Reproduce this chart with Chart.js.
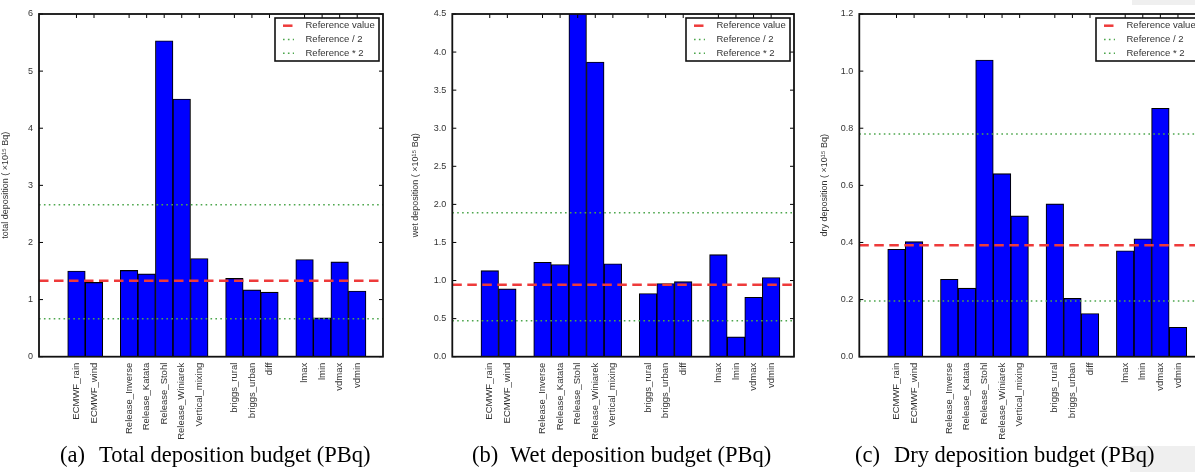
<!DOCTYPE html>
<html>
<head>
<meta charset="utf-8">
<script src="https://cdn.jsdelivr.net/npm/chart.js@4.4.1/dist/chart.umd.min.js"></script>
<style>
  html, body { margin: 0; padding: 0; background: #fff; width: 1195px; height: 472px; overflow: hidden; position: relative; }
  .box { position: absolute; top: 0; height: 445px; }
  .gray { position: absolute; background: #efefef; }
  .cap { position: absolute; top: 444px; font-family: "Liberation Serif", "Times New Roman", serif; font-size: 22.5px; line-height: 22.5px; color: #000; white-space: nowrap; }
</style>
</head>
<body>
<div class="box" style="left:0px;width:400px"><canvas id="chartA"></canvas></div>
<div class="box" style="left:400px;width:400px"><canvas id="chartB"></canvas></div>
<div class="box" style="left:800px;width:420px"><canvas id="chartC"></canvas></div>

<div class="gray" style="left:1132px;top:0;width:63px;height:5px"></div>
<div class="gray" style="left:1130px;top:446px;width:65px;height:26px"></div>

<div class="cap" style="left:60px">(a)</div>
<div class="cap" style="left:99px">Total deposition budget (PBq)</div>
<div class="cap" style="left:472px">(b)</div>
<div class="cap" style="left:510px">Wet deposition budget (PBq)</div>
<div class="cap" style="left:855px">(c)</div>
<div class="cap" style="left:894px">Dry deposition budget (PBq)</div>

<script>
// '' marks the empty slot between groups of runs
const categories = ["ECMWF_rain", "ECMWF_wind", "",
  "Release_Inverse", "Release_Katata", "Release_Stohl", "Release_Winiarek", "Vertical_mixing", "",
  "briggs_rural", "briggs_urban", "diff", "",
  "lmax", "lmin", "vdmax", "vdmin"];

const totalDeposition = [1.50, 1.30, null, 1.51, 1.45, 5.53, 4.51, 1.72, null, 1.37, 1.17, 1.13, null, 1.70, 0.68, 1.66, 1.15];
const wetDeposition   = [1.13, 0.89, null, 1.24, 1.21, 4.62, 3.87, 1.22, null, 0.83, 0.96, 0.985, null, 1.34, 0.26, 0.78, 1.04];
const dryDeposition   = [0.376, 0.403, null, 0.271, 0.240, 1.039, 0.641, 0.493, null, 0.535, 0.204, 0.151, null, 0.371, 0.413, 0.870, 0.103];

const totalReference = 1.33;
const wetReference = 0.945;
const dryReference = 0.39;

const totalTicks = ["0", "1", "2", "3", "4", "5", "6"];
const wetTicks = ["0.0", "0.5", "1.0", "1.5", "2.0", "2.5", "3.0", "3.5", "4.0", "4.5"];
const dryTicks = ["0.0", "0.2", "0.4", "0.6", "0.8", "1.0", "1.2"];

const legendLabels = ["Reference value", "Reference / 2", "Reference * 2"];

const SANS = '"Liberation Sans", Arial, sans-serif';
const RED = "#ee3a3a";
const GREEN = "#4da64d";

// matplotlib style box, inward ticks and legend
const framePlugin = {
  id: "frameTicks",
  beforeDatasetsDraw(chart) {
    const { ctx, chartArea: a, scales: { y } } = chart;
    ctx.save();
    ctx.strokeStyle = "#000";
    ctx.lineWidth = 1;
    ctx.beginPath();
    y.ticks.forEach(t => {
      const py = y.getPixelForValue(t.value);
      ctx.moveTo(a.left, py); ctx.lineTo(a.left + 4, py);
      ctx.moveTo(a.right, py); ctx.lineTo(a.right - 4, py);
    });
    ctx.stroke();
    ctx.restore();
  },
  afterDatasetsDraw(chart) {
    const { ctx, chartArea: a, scales: { x } } = chart;
    ctx.save();
    ctx.strokeStyle = "#000";
    ctx.lineWidth = 1;
    ctx.beginPath();
    x.ticks.forEach(t => {
      const px = x.getPixelForValue(t.value);
      ctx.moveTo(px, a.top); ctx.lineTo(px, a.top + 4);
    });
    ctx.stroke();
    ctx.lineWidth = 1.8;
    ctx.strokeStyle = "#111";
    ctx.strokeRect(a.left, a.top, a.right - a.left, a.bottom - a.top);

    // legend
    const lines = chart.data.datasets.filter(d => d.type === "line");
    const bw = 104, bh = 43;
    const bx = a.right - 4 - bw, by = a.top + 4;
    ctx.fillStyle = "#fff";
    ctx.fillRect(bx, by, bw, bh);
    ctx.lineWidth = 1.6;
    ctx.strokeStyle = "#111";
    ctx.strokeRect(bx, by, bw, bh);
    ctx.font = "9.5px " + SANS;
    ctx.textBaseline = "middle";
    lines.forEach((d, i) => {
      const ry = by + 7.7 + i * 13.8;
      ctx.save();
      ctx.strokeStyle = d.borderColor;
      ctx.lineWidth = d.borderWidth;
      ctx.setLineDash(d.borderDash);
      ctx.beginPath();
      ctx.moveTo(bx + 8, ry); ctx.lineTo(bx + 19, ry);
      ctx.stroke();
      ctx.restore();
      ctx.fillStyle = "#333";
      ctx.fillText(d.label, bx + 30.5, ry);
    });
    ctx.restore();
  }
};

function makeChart(id, values, ref, tickLabels, title, layout) {
  const bars = [];
  const tickPositions = [];
  categories.forEach((c, i) => {
    if (c === "") return;
    tickPositions.push(i);
    bars.push({ x: i, y: values[i] });
  });
  const refLine = (v) => [{ x: layout.xMin, y: v }, { x: layout.xMax, y: v }];

  return new Chart(document.getElementById(id), {
    type: "bar",
    data: {
      datasets: [
        {
          type: "line", label: legendLabels[0], data: refLine(ref),
          borderColor: RED, borderWidth: 2.5, borderDash: [9.5, 5.5],
          pointRadius: 0, order: 0
        },
        {
          type: "line", label: legendLabels[1], data: refLine(ref / 2),
          borderColor: GREEN, borderWidth: 1.6, borderDash: [1.6, 3.3],
          pointRadius: 0, order: 0
        },
        {
          type: "line", label: legendLabels[2], data: refLine(ref * 2),
          borderColor: GREEN, borderWidth: 1.6, borderDash: [1.6, 3.3],
          pointRadius: 0, order: 0
        },
        {
          type: "bar", data: bars,
          backgroundColor: "#0000ff", borderColor: "#000", borderWidth: 1.1,
          borderSkipped: false, barPercentage: 1, categoryPercentage: 1, order: 1
        }
      ]
    },
    options: {
      animation: false,
      responsive: true,
      maintainAspectRatio: false,
      layout: { padding: { top: 14, right: layout.padRight, left: 0, bottom: 0 } },
      plugins: { legend: { display: false }, tooltip: { enabled: false } },
      scales: {
        x: {
          type: "linear",
          offset: false,
          min: layout.xMin,
          max: layout.xMax,
          grid: { display: false, drawTicks: false },
          border: { display: false },
          afterBuildTicks: (scale) => { scale.ticks = tickPositions.map(v => ({ value: v })); },
          afterFit: (scale) => { scale.height = 88.3; },
          ticks: {
            autoSkip: false, minRotation: 90, maxRotation: 90, padding: 6,
            color: "#333", font: { family: SANS, size: 9.5 },
            callback: (v) => categories[v]
          }
        },
        y: {
          min: 0,
          max: parseFloat(tickLabels[tickLabels.length - 1]),
          grid: { display: false, drawTicks: false },
          border: { display: false },
          afterBuildTicks: (scale) => { scale.ticks = tickLabels.map(t => ({ value: parseFloat(t) })); },
          afterFit: (scale) => { scale.width = layout.yWidth; },
          ticks: {
            padding: 6, color: "#333", font: { family: SANS, size: 9 },
            callback: (v, i) => tickLabels[i]
          },
          title: {
            display: true, text: title, color: "#333",
            font: { family: SANS, size: 9 }, padding: { top: layout.titlePad, bottom: 0 }
          }
        }
      }
    },
    plugins: [framePlugin]
  });
}

makeChart("chartA", totalDeposition, totalReference, totalTicks, "total deposition ( ×10¹⁵ Bq)",
  { xMin: -2.135, xMax: 17.47, yWidth: 39, padRight: 17, titlePad: 0 });
makeChart("chartB", wetDeposition, wetReference, wetTicks, "wet deposition ( ×10¹⁵ Bq)",
  { xMin: -2.13, xMax: 17.30, yWidth: 52.3, padRight: 6, titlePad: 10.5 });
makeChart("chartC", dryDeposition, dryReference, dryTicks, "dry deposition ( ×10¹⁵ Bq)",
  { xMin: -2.115, xMax: 17.48, yWidth: 59.3, padRight: 16, titlePad: 19.5 });
</script>
</body>
</html>
